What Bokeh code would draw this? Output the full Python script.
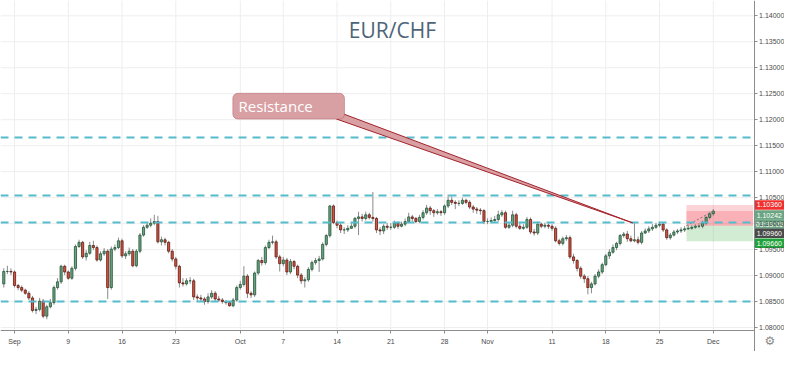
from bokeh.plotting import figure
from bokeh.models import (ColumnDataSource, FixedTicker, PrintfTickFormatter, Span,
                          Label, BoxAnnotation, Range1d, LinearAxis)
from bokeh.core.properties import value
from bokeh.embed import file_html
from bokeh.resources import INLINE

# ---------------- data (EUR/CHF, 3 bars per trading day) ----------------
first_open = 1.0884
closes = [1.0908, 1.0908, 1.0907, 1.0881, 1.0877, 1.0872, 1.0866, 1.0857, 1.0833, 1.0835,
          1.0851, 1.0822, 1.0840, 1.0848, 1.0877, 1.0888, 1.0918, 1.0907, 1.0895, 1.0914,
          1.0956, 1.0964, 1.0936, 1.0943, 1.0958, 1.0954, 1.0930, 1.0942, 1.0947, 1.0877,
          1.0951, 1.0954, 1.0967, 1.0938, 1.0942, 1.0947, 1.0919, 1.0947, 1.0978, 1.0993,
          1.0997, 1.1001, 1.1004, 1.0965, 1.0969, 1.0964, 1.0947, 1.0932, 1.0918, 1.0886,
          1.0884, 1.0890, 1.0890, 1.0859, 1.0857, 1.0855, 1.0850, 1.0859, 1.0866, 1.0855,
          1.0853, 1.0850, 1.0848, 1.0842, 1.0853, 1.0877, 1.0883, 1.0899, 1.0866, 1.0863,
          1.0905, 1.0929, 1.0925, 1.0954, 1.0964, 1.0965, 1.0936, 1.0923, 1.0930, 1.0907,
          1.0927, 1.0918, 1.0901, 1.0890, 1.0892, 1.0912, 1.0925, 1.0929, 1.0932, 1.0960,
          1.0977, 1.1034, 1.1002, 1.0997, 1.0988, 1.0988, 1.0991, 1.0995, 1.1010, 1.1013,
          1.1010, 1.1017, 1.1012, 1.1010, 1.0988, 1.0986, 1.0995, 1.0993, 1.0993, 1.1001,
          1.0995, 1.0999, 1.1004, 1.1013, 1.1010, 1.1004, 1.1012, 1.1021, 1.1030, 1.1025,
          1.1021, 1.1023, 1.1021, 1.1034, 1.1045, 1.1041, 1.1039, 1.1039, 1.1045, 1.1041,
          1.1032, 1.1028, 1.1026, 1.1025, 1.1004, 1.1004, 1.1006, 1.1008, 1.1017, 1.1021,
          1.0993, 1.0997, 1.1017, 1.0995, 1.0991, 1.0993, 1.1008, 1.0984, 1.0982, 1.0999,
          1.0995, 1.0997, 1.0995, 1.0991, 1.0967, 1.0962, 1.0971, 1.0973, 1.0936, 1.0929,
          1.0914, 1.0899, 1.0894, 1.0877, 1.0884, 1.0899, 1.0907, 1.0921, 1.0938, 1.0945,
          1.0954, 1.0962, 1.0977, 1.0980, 1.0971, 1.0967, 1.0969, 1.0964, 1.0982, 1.0986,
          1.0990, 1.0993, 1.0997, 1.0999, 1.0988, 1.0973, 1.0978, 1.0984, 1.0986, 1.0988,
          1.0990, 1.0991, 1.0993, 1.0995, 1.0995, 1.1001, 1.1012, 1.1019, 1.10242]
highs = [1.0914, 1.0919, 1.0914, 1.0910, 1.0884, 1.0881, 1.0875, 1.0870, 1.0861, 1.0840,
         1.0857, 1.0855, 1.0844, 1.0855, 1.0881, 1.0895, 1.0921, 1.0921, 1.0910, 1.0918,
         1.0960, 1.0969, 1.0967, 1.0949, 1.0965, 1.0967, 1.0958, 1.0947, 1.0953, 1.0951,
         1.0956, 1.0960, 1.0973, 1.0971, 1.0947, 1.0954, 1.0951, 1.0951, 1.0982, 1.0997,
         1.1002, 1.1010, 1.1017, 1.1015, 1.0975, 1.0973, 1.0967, 1.0951, 1.0936, 1.0921,
         1.0895, 1.0895, 1.0897, 1.0894, 1.0864, 1.0863, 1.0859, 1.0866, 1.0872, 1.0870,
         1.0861, 1.0857, 1.0853, 1.0850, 1.0857, 1.0881, 1.0890, 1.0918, 1.0903, 1.0870,
         1.0908, 1.0932, 1.0936, 1.0958, 1.0969, 1.0977, 1.0969, 1.0940, 1.0936, 1.0934,
         1.0932, 1.0930, 1.0921, 1.0905, 1.0897, 1.0916, 1.0929, 1.0934, 1.0938, 1.0964,
         1.0980, 1.1036, 1.1037, 1.1006, 1.1001, 1.0993, 1.0997, 1.1001, 1.1013, 1.1023,
         1.1019, 1.1023, 1.1021, 1.1061, 1.1013, 1.0993, 1.0999, 1.1001, 1.1001, 1.1006,
         1.1004, 1.1004, 1.1010, 1.1021, 1.1017, 1.1013, 1.1017, 1.1026, 1.1036, 1.1034,
         1.1028, 1.1028, 1.1026, 1.1037, 1.1056, 1.1052, 1.1045, 1.1045, 1.1050, 1.1048,
         1.1045, 1.1036, 1.1032, 1.1030, 1.1028, 1.1010, 1.1012, 1.1015, 1.1025, 1.1026,
         1.1025, 1.1002, 1.1025, 1.1021, 1.1001, 1.0999, 1.1013, 1.1012, 1.0990, 1.1004,
         1.1002, 1.1002, 1.1001, 1.0999, 1.0995, 1.0971, 1.0975, 1.0978, 1.0977, 1.0942,
         1.0932, 1.0918, 1.0903, 1.0899, 1.0888, 1.0903, 1.0912, 1.0925, 1.0942, 1.0951,
         1.0960, 1.0965, 1.0980, 1.0984, 1.0986, 1.0977, 1.1001, 1.0975, 1.0986, 1.0991,
         1.0995, 1.0999, 1.1002, 1.1004, 1.1002, 1.0991, 1.0982, 1.0988, 1.0990, 1.0993,
         1.0995, 1.0997, 1.0997, 1.0999, 1.1001, 1.1006, 1.1015, 1.1023, 1.1028]
lows = [1.0877, 1.0903, 1.0901, 1.0877, 1.0872, 1.0868, 1.0863, 1.0853, 1.0829, 1.0826,
        1.0831, 1.0818, 1.0816, 1.0837, 1.0844, 1.0873, 1.0884, 1.0901, 1.0892, 1.0892,
        1.0910, 1.0953, 1.0932, 1.0929, 1.0940, 1.0949, 1.0927, 1.0927, 1.0938, 1.0855,
        1.0873, 1.0947, 1.0951, 1.0934, 1.0932, 1.0938, 1.0916, 1.0916, 1.0943, 1.0975,
        1.0990, 1.0993, 1.0997, 1.0962, 1.0958, 1.0958, 1.0943, 1.0927, 1.0912, 1.0877,
        1.0879, 1.0881, 1.0884, 1.0853, 1.0851, 1.0850, 1.0844, 1.0846, 1.0855, 1.0851,
        1.0850, 1.0846, 1.0844, 1.0840, 1.0839, 1.0850, 1.0873, 1.0879, 1.0857, 1.0857,
        1.0859, 1.0901, 1.0919, 1.0921, 1.0951, 1.0960, 1.0932, 1.0908, 1.0918, 1.0901,
        1.0903, 1.0912, 1.0895, 1.0884, 1.0877, 1.0888, 1.0908, 1.0921, 1.0907, 1.0929,
        1.0956, 1.0973, 1.0999, 1.0991, 1.0982, 1.0980, 1.0984, 1.0990, 1.0991, 1.0978,
        1.1004, 1.1006, 1.1008, 1.1004, 1.0982, 1.0978, 1.0980, 1.0988, 1.0988, 1.0990,
        1.0990, 1.0993, 1.0995, 1.1001, 1.1004, 1.1001, 1.1001, 1.1008, 1.1017, 1.1017,
        1.1013, 1.1017, 1.1015, 1.1017, 1.1030, 1.1036, 1.1028, 1.1034, 1.1036, 1.1037,
        1.1028, 1.1021, 1.1019, 1.1017, 1.0999, 1.0999, 1.1001, 1.1002, 1.1004, 1.1013,
        1.0990, 1.0990, 1.0993, 1.0991, 1.0988, 1.0988, 1.0990, 1.0980, 1.0977, 1.0978,
        1.0991, 1.0991, 1.0990, 1.0986, 1.0964, 1.0958, 1.0958, 1.0967, 1.0932, 1.0923,
        1.0908, 1.0894, 1.0886, 1.0864, 1.0866, 1.0881, 1.0895, 1.0903, 1.0918, 1.0932,
        1.0942, 1.0949, 1.0958, 1.0973, 1.0965, 1.0964, 1.0964, 1.0960, 1.0960, 1.0980,
        1.0982, 1.0986, 1.0990, 1.0993, 1.0984, 1.0969, 1.0969, 1.0975, 1.0980, 1.0982,
        1.0984, 1.0988, 1.0988, 1.0990, 1.0991, 1.0991, 1.0997, 1.1008, 1.1015]
first_day = -1          # trading-day index of the first bar (Fri 30 Aug)
bars_per_day = 3

day_ticks = [0, 5, 10, 15, 21, 25, 30, 35, 40, 44, 50, 55, 60, 65]
day_labels = ["Sep", "9", "16", "23", "Oct", "7", "14", "21", "28", "Nov", "11", "18", "25", "Dec"]
price_ticks = [1.080, 1.085, 1.090, 1.095, 1.100, 1.105, 1.110, 1.115, 1.120, 1.125, 1.130, 1.135, 1.140]

levels = [1.1166, 1.1054, 1.1002, 1.0850]          # horizontal support / resistance lines
pos_start_day = 62.67                               # short-position tool
pos_end_day = 68.87
entry_price = 1.0996
stop_price = 1.1036
target_price = 1.0966
last_price = 1.10242
countdown = "03:33:05"

# ---------------- view geometry (data units) ----------------
X_LEFT, X_AXIS, X_RIGHT = -1.1395, 68.96, 71.79          # chart edge, price scale, canvas edge
Y_BOTTOM, Y_AXIS, Y_TOP = 1.075395, 1.07944, 1.142945     # canvas edge, time scale, top

# ---------------- derived candle columns ----------------
n = len(closes)
opens = [first_open] + closes[:-1]
xs = [first_day + (i + 0.5) / bars_per_day for i in range(n)]
up = [c >= o for o, c in zip(opens, closes)]

def sub(mask):
    idx = [i for i in range(n) if mask[i]]
    return ColumnDataSource(dict(
        x=[xs[i] for i in idx],
        top=[max(opens[i], closes[i]) for i in idx],
        bottom=[min(opens[i], closes[i]) for i in idx]))

src_up = sub(up)
src_dn = sub([not u for u in up])
src_all = ColumnDataSource(dict(x=xs, high=highs, low=lows))

# ---------------- figure ----------------
p = figure(width=784, height=351, output_backend="svg", toolbar_location=None,
           x_range=Range1d(X_LEFT, X_RIGHT), y_range=Range1d(Y_BOTTOM, Y_TOP),
           x_axis_location=None, y_axis_location=None,
           min_border_left=0, min_border_top=0, min_border_right=0, min_border_bottom=0,
           background_fill_color="white", border_fill_color="white",
           outline_line_color=None)
p.xgrid.visible = False
p.ygrid.visible = False

font = "Liberation Sans"
tick_x = [d + 1 / 6 for d in day_ticks]

# grid
p.segment(x0=tick_x, y0=[Y_AXIS] * len(tick_x), x1=tick_x, y1=[Y_TOP] * len(tick_x),
          line_color="#eeeeee", line_width=1)
p.segment(x0=[X_LEFT] * len(price_ticks), y0=price_ticks, x1=[X_AXIS] * len(price_ticks),
          y1=price_ticks, line_color="#eeeeee", line_width=1)

# axes (library axes, pinned inside the canvas)
xa = LinearAxis(fixed_location=Y_AXIS, bounds=(X_LEFT, X_AXIS),
                ticker=FixedTicker(ticks=tick_x))
xa.major_label_overrides = {t: lab for t, lab in zip(tick_x, day_labels)}
ya = LinearAxis(fixed_location=X_AXIS, ticker=FixedTicker(ticks=price_ticks),
                formatter=PrintfTickFormatter(format="%.5f"))
for ax in (xa, ya):
    ax.axis_line_color = "#8d8d8d"
    ax.major_tick_line_color = "#8d8d8d"
    ax.major_tick_out = 3
    ax.major_tick_in = 0
    ax.minor_tick_line_color = None
    ax.major_label_text_font = font
    ax.major_label_text_font_size = "7px"
    ax.major_label_text_color = "#4a4a4a"
xa.major_label_standoff = 5
ya.major_label_standoff = 2
p.add_layout(xa, "below")
p.add_layout(ya, "right")

# short-position tool
p.quad(left=[pos_start_day], right=[pos_end_day], bottom=[entry_price], top=[stop_price],
       fill_color="#f23645", fill_alpha=0.22, line_color=None)
p.quad(left=[pos_start_day], right=[pos_end_day], bottom=[entry_price], top=[last_price],
       fill_color="#f23645", fill_alpha=0.22, line_color=None)
p.quad(left=[pos_start_day], right=[pos_end_day], bottom=[target_price], top=[entry_price],
       fill_color="#4caf50", fill_alpha=0.25, line_color=None)

# candles
p.segment(x0="x", y0="high", x1="x", y1="low", source=src_all, line_color="#8a8a8c", line_width=1)
p.vbar(x="x", top="top", bottom="bottom", width=0.2, source=src_up,
       fill_color="#6ba583", line_color="#225437", line_width=0.8)
p.vbar(x="x", top="top", bottom="bottom", width=0.2, source=src_dn,
       fill_color="#d75442", line_color="#5b1a13", line_width=0.8)

p.line([pos_start_day, xs[-1]], [entry_price, last_price], line_color="#7a7a7a",
       line_dash="2 2", line_width=1)

for lv in levels:
    p.segment(x0=[X_LEFT], y0=[lv], x1=[X_AXIS], y1=[lv], line_color="#55bccc",
              line_width=2, line_dash="8 6")

# callout "Resistance"
p.patch([30.13, 30.86, 57.66], [1.12012, 1.12104, 1.10015],
        fill_color="#d9a0a4", line_color="#a3222a", line_width=1)
p.add_layout(BoxAnnotation(left=20.47, right=30.86, bottom=1.12012, top=1.12509,
                           fill_color="#d9a0a4", fill_alpha=1.0, line_color="#a3222a",
                           line_width=1, border_radius=5))
p.add_layout(Label(x=21.0, y=1.1227, text="Resistance", text_color="white",
                   text_font="Open Sans", text_font_size="15px", text_baseline="middle"))

# title text
p.add_layout(Label(x=35.32, y=1.1372, text="EUR/CHF", text_color="#4d6478",
                   text_font="Open Sans", text_font_size="21px", text_align="center",
                   text_baseline="middle"))

# price-scale tags (stacked so they do not overlap)
tag_text = [f"{stop_price:.5f}", f"{last_price:.5f}", countdown,
            f"{entry_price:.5f}", f"{target_price:.5f}"]
tag_y = [1.10359, 1.10166, 1.09991, 1.09817, 1.09623]
tag_col = ["#f0302f", "#6ba583", "#6ba583", "#4a4a4a", "#1fa33a"]
tag_cx = (X_AXIS + X_RIGHT) / 2
p.rect(x=[tag_cx] * 5, y=tag_y, width=X_RIGHT - X_AXIS, height=0.00182,
       fill_color=tag_col, line_color=None)
p.text(x=[tag_cx] * 5, y=tag_y, text=tag_text, text_color="white",
       text_font=value(font), text_font_size="7px", text_align="center",
       text_baseline="middle")

# settings gear
p.text(x=[70.42], y=[1.07742], text=["\u2699"], text_color="#8a8a8a",
       text_font=value("DejaVu Sans"), text_font_size="12px", text_align="center",
       text_baseline="middle")

open("out.html", "w").write(file_html(p, INLINE))
